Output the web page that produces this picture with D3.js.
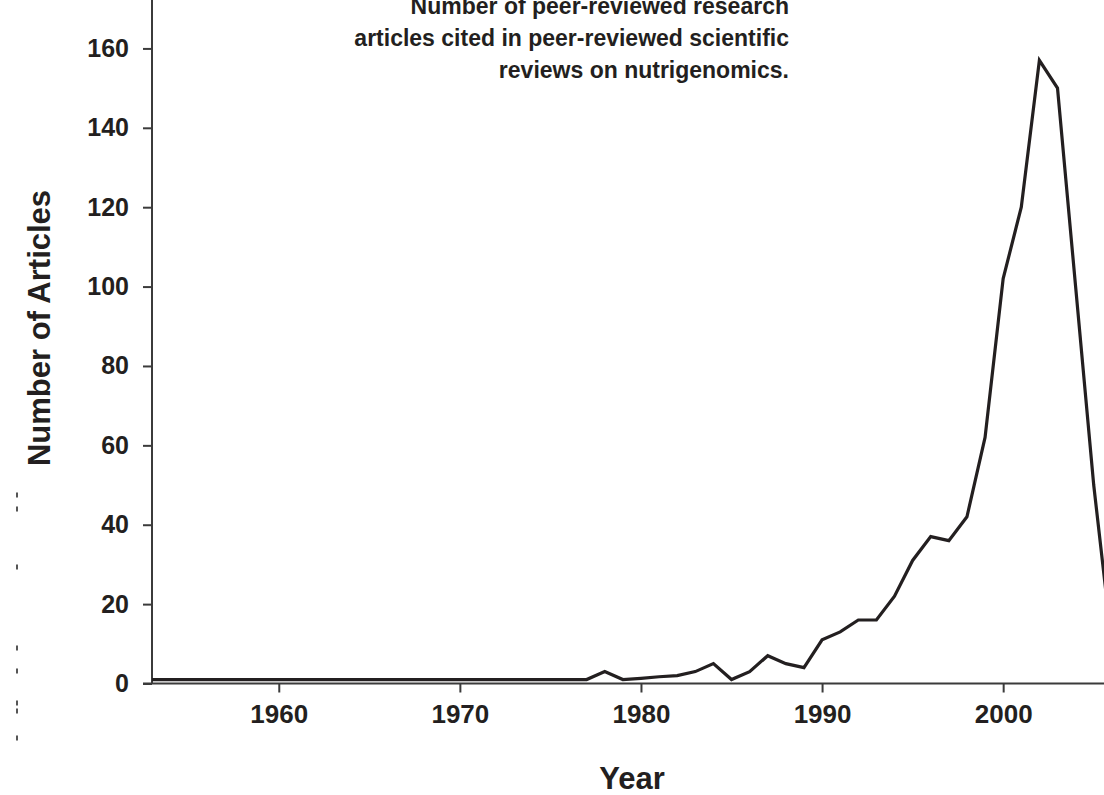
<!DOCTYPE html>
<html>
<head>
<meta charset="utf-8">
<script src="https://cdn.jsdelivr.net/npm/d3@7"></script>
<style>
  html, body { margin: 0; padding: 0; background: #fff; }
  svg { display: block; font-family: "Liberation Sans", Arial, Helvetica, sans-serif; font-weight: bold; }
</style>
</head>
<body>
<svg id="chart" width="1104" height="795"></svg>
<script>
// years on the x axis (one point per year)
var years = d3.range(1953, 2007);

// number of cited articles per year
var articles = [
    1, 1, 1, 1, 1, 1, 1, 1, 1, 1,       // 1953-1962
    1, 1, 1, 1, 1, 1, 1, 1, 1, 1,       // 1963-1972
    1, 1, 1, 1, 1, 3, 1, 1.3, 1.7, 2,   // 1973-1982
    3, 5, 1, 3, 7, 5, 4, 11, 13, 16,    // 1983-1992
    16, 22, 31, 37, 36, 42, 62, 102, 120, 157, // 1993-2002
    150, 100, 50, 10                    // 2003-2006
];

var xTicks = [1960, 1970, 1980, 1990, 2000];
var yTicks = [0, 20, 40, 60, 80, 100, 120, 140, 160];

var titleLines = [
    "Number of peer-reviewed research",
    "articles cited in peer-reviewed scientific",
    "reviews on nutrigenomics."
];

// little scanner specks down the left margin of the original
var specks = [495, 509, 567, 648, 671, 703, 711, 738];

var ink = "#231f20",
    axisInk = "#3b3b3b";

var drawChart = function () {
    let svg = d3.select("#chart"),
        ds = years.map((yr, i) => ({ year: yr, count: articles[i] })),
        cs = {
            x: { left: 152, perYear: 18.11, tickSize: 9 },
            y: { bottom: 683.5, tickSize: 9 }
        };

    cs.x.scale = d3.scaleLinear()
        .domain([1953, 2006])
        .range([cs.x.left, cs.x.left + 53 * cs.x.perYear]);

    cs.y.scale = d3.scaleLinear()
        .domain([0, 172.2])
        .range([cs.y.bottom, 0]);

    // x axis
    cs.x.axis = d3.axisBottom(cs.x.scale)
        .tickValues(xTicks)
        .tickFormat(d3.format("d"))
        .tickSize(cs.x.tickSize)
        .tickPadding(12);

    let gx = svg.append("g")
        .attr("transform", "translate(0," + cs.y.bottom + ")")
        .call(cs.x.axis);
    gx.select(".domain").remove();
    gx.selectAll(".tick line").attr("stroke", axisInk).attr("stroke-width", 2);
    gx.selectAll(".tick text")
        .attr("fill", ink)
        .attr("font-size", 26)
        .attr("font-family", null);
    gx.append("line")
        .attr("x1", cs.x.left - cs.y.tickSize)
        .attr("x2", 1104)
        .attr("stroke", axisInk)
        .attr("stroke-width", 2);

    // y axis
    cs.y.axis = d3.axisLeft(cs.y.scale)
        .tickValues(yTicks)
        .tickSize(cs.y.tickSize)
        .tickPadding(14);

    let gy = svg.append("g")
        .attr("transform", "translate(" + cs.x.left + ",0)")
        .call(cs.y.axis);
    gy.select(".domain").remove();
    gy.selectAll(".tick line").attr("stroke", axisInk).attr("stroke-width", 2);
    gy.selectAll(".tick text")
        .attr("fill", ink)
        .attr("font-size", 25)
        .attr("font-family", null);
    gy.append("line")
        .attr("y1", 0)
        .attr("y2", cs.y.bottom)
        .attr("stroke", axisInk)
        .attr("stroke-width", 2);

    // the series
    cs.lineFunction = d3.line()
        .x(d => cs.x.scale(d.year))
        .y(d => cs.y.scale(d.count));

    svg.append("path")
        .datum(ds)
        .attr("fill", "none")
        .attr("stroke", ink)
        .attr("stroke-width", 3.2)
        .attr("stroke-linejoin", "miter")
        .attr("d", cs.lineFunction);

    // axis titles
    svg.append("text")
        .attr("x", 632)
        .attr("y", 789)
        .attr("text-anchor", "middle")
        .attr("font-size", 31)
        .attr("fill", ink)
        .text("Year");

    svg.append("text")
        .attr("transform", "translate(50,328) rotate(-90)")
        .attr("text-anchor", "middle")
        .attr("font-size", 31)
        .attr("fill", ink)
        .text("Number of Articles");

    // note in the top corner (first line runs off the top, as in the original)
    svg.append("g")
        .selectAll("text")
        .data(titleLines)
        .join("text")
        .attr("x", 789)
        .attr("y", (d, i) => 14 + i * 32)
        .attr("text-anchor", "end")
        .attr("font-size", 23)
        .attr("fill", ink)
        .text(d => d);

    svg.append("g")
        .selectAll("rect")
        .data(specks)
        .join("rect")
        .attr("x", 16)
        .attr("y", d => d - 2.5)
        .attr("width", 2)
        .attr("height", 5)
        .attr("fill", "#555");
};

drawChart();
</script>
</body>
</html>
